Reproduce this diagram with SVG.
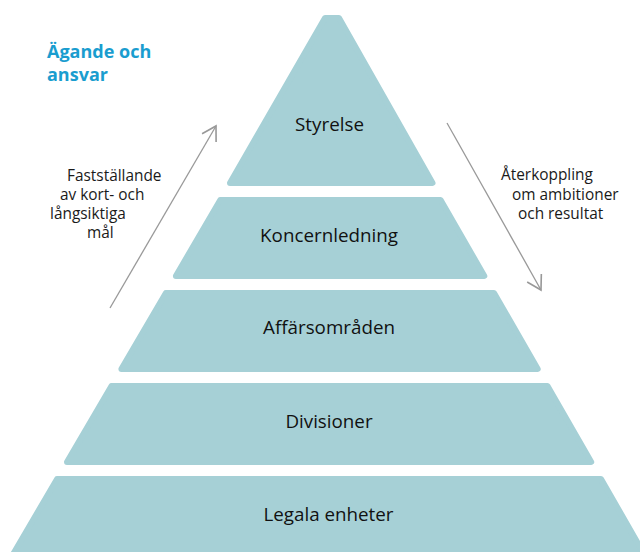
<svg xmlns="http://www.w3.org/2000/svg" width="640" height="552" viewBox="0 0 640 552">
<defs>
<style>
.tier{fill:#a6d0d6;stroke:#a6d0d6;stroke-width:6;stroke-linejoin:round}
.lbl{font-family:"Open Sans","Noto Sans",sans-serif;font-size:18.8px;fill:#111111;text-anchor:middle}
.note{font-family:"Open Sans","Noto Sans",sans-serif;font-size:15.4px;fill:#1a1a1a}
.head{font-family:"Open Sans","Noto Sans",sans-serif;font-size:18px;font-weight:bold;fill:#1a9dcf}
.arr{fill:none;stroke:#999999;stroke-width:1.3}
</style>
<marker id="chev" markerUnits="userSpaceOnUse" markerWidth="20" markerHeight="20" viewBox="-12 -8 14 16" refX="0" refY="0" orient="auto">
<path d="M-11,-6.5 L0,0 L-11,6.5" fill="none" stroke="#999999" stroke-width="1.3"/>
</marker>
</defs>
<rect width="640" height="552" fill="#ffffff"/>
<g id="heading">
<text class="head" x="47" y="58">Ägande och</text>
<text class="head" x="47" y="81">ansvar</text>
</g>
<g id="tier-styrelse">
<polygon class="tier" points="325,18 339,18 432.5,183 230,183"/>
<text class="lbl" x="329.5" y="131">Styrelse</text>
</g>
<g id="tier-koncernledning">
<polygon class="tier" points="220.3,200 440.6,200 484.3,276 175.9,276"/>
<text class="lbl" x="329" y="242">Koncernledning</text>
</g>
<g id="tier-affarsomraden">
<polygon class="tier" points="165.9,293 494,293 537.7,369 121.4,369"/>
<text class="lbl" x="329" y="334">Affärsområden</text>
</g>
<g id="tier-divisioner">
<polygon class="tier" points="111.5,386 547.5,386 591.2,462 67,462"/>
<text class="lbl" x="329" y="428">Divisioner</text>
</g>
<g id="tier-legala">
<polygon class="tier" points="57.1,479 601,479 647.5,560 9.7,560"/>
<text class="lbl" x="328.5" y="521">Legala enheter</text>
</g>
<g id="connectors">
<line class="arr" x1="110" y1="308" x2="216" y2="126" marker-end="url(#chev)"/>
<line class="arr" x1="447" y1="123" x2="541" y2="290" marker-end="url(#chev)"/>
</g>
<g id="note-left">
<text class="note" x="67" y="181">Fastställande</text>
<text class="note" x="60" y="200">av kort- och</text>
<text class="note" x="50" y="219">långsiktiga</text>
<text class="note" x="87" y="238">mål</text>
</g>
<g id="note-right">
<text class="note" x="501" y="180">Återkoppling</text>
<text class="note" x="512" y="200">om ambitioner</text>
<text class="note" x="518" y="219">och resultat</text>
</g>
</svg>
